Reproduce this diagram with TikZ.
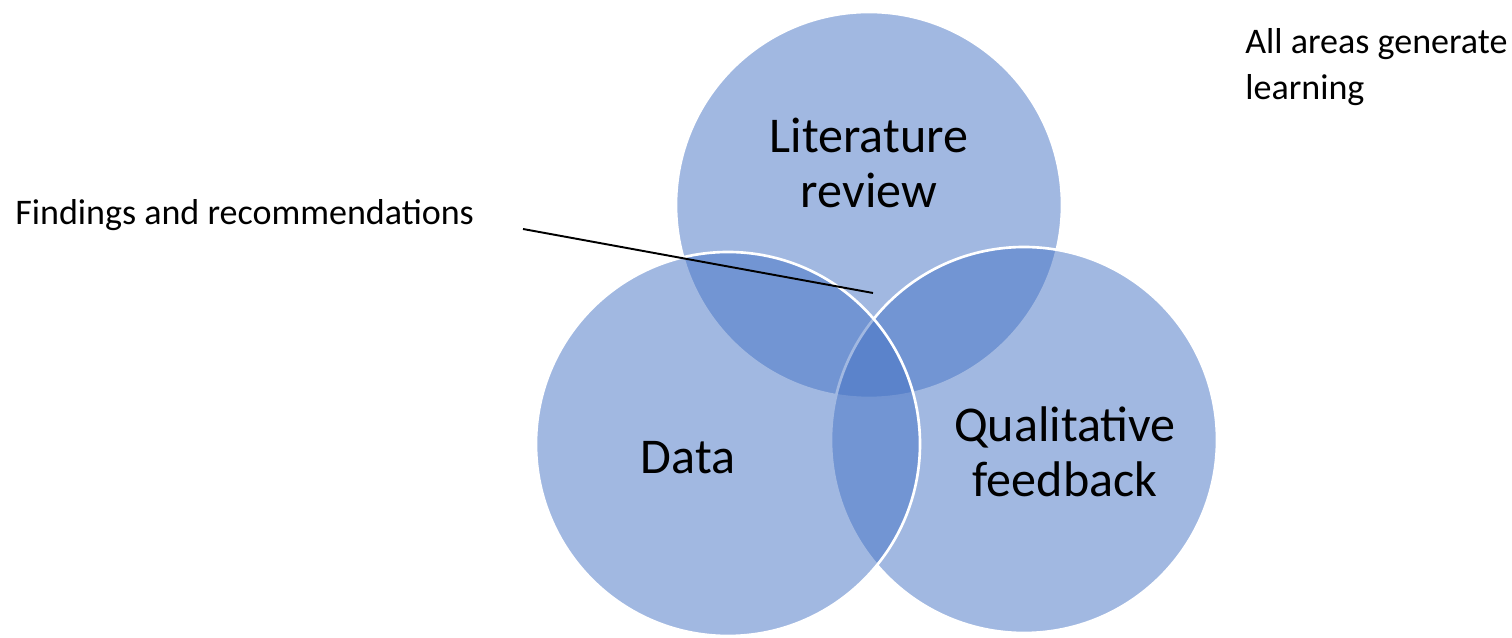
\documentclass[tikz,border=0pt]{standalone}
\usepackage{fontspec}
\setmainfont{Carlito}
\usepackage{tikz}

\definecolor{vennblue}{HTML}{4472C4}
\tikzset{
  venn/.style={fill=vennblue,fill opacity=0.5,draw=white,line width=1.5pt},
  bigtext/.style={font=\fontsize{28.5}{31.5}\selectfont,align=center,inner sep=0pt},
  smalltext/.style={font=\fontsize{20.5}{26}\selectfont,align=left,inner sep=0pt}
}

\begin{document}
\begin{tikzpicture}
    \useasboundingbox (0,0) rectangle (30.24,12.76);
    \draw[venn] (17.38,8.66) circle (3.86); % Literature review
    \draw[venn] (20.48,3.96) circle (3.86); % Qualitative feedback
    \draw[venn] (14.56,3.88) circle (3.84); % Data
    \node[bigtext] (lit) at (17.38,9.5) {Literature\\review};
    \node[bigtext] (data) at (13.76,3.6) {Data};
    \node[bigtext] (qual) at (21.3,3.72) {Qualitative\\feedback};
    \node[smalltext,anchor=west] (find) at (0.3,8.46) {Findings and recommendations};
    \node[smalltext,anchor=north west] (learn) at (24.9,12.2) {All areas generate\\learning};
    \coordinate (linestart) at (10.46,8.18);
    \coordinate (lineend) at (17.46,6.9);
    \draw[line width=1.1pt] (linestart)--(lineend);
\end{tikzpicture}
\end{document}
